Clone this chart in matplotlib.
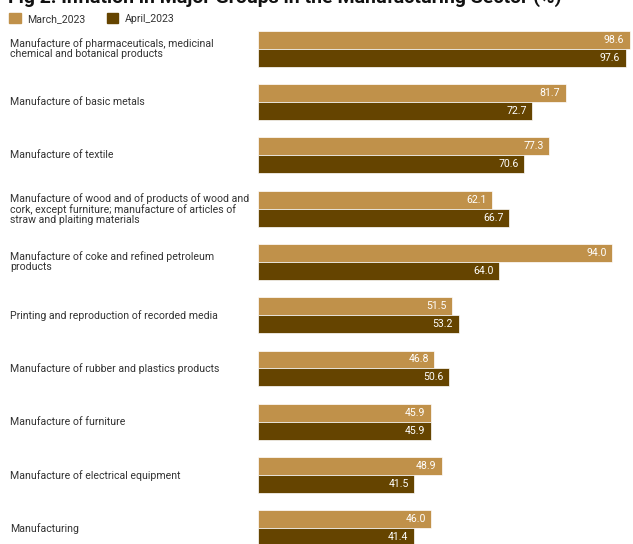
import numpy as np
import matplotlib.pyplot as plt
import matplotlib.transforms as mtransforms
from matplotlib.patches import Patch

plt.rcParams['font.family'] = ['Roboto', 'DejaVu Sans']

groups = [
    'Manufacture of pharmaceuticals, medicinal\nchemical and botanical products',
    'Manufacture of basic metals',
    'Manufacture of textile',
    'Manufacture of wood and of products of wood and\ncork, except furniture; manufacture of articles of\nstraw and plaiting materials',
    'Manufacture of coke and refined petroleum\nproducts',
    'Printing and reproduction of recorded media',
    'Manufacture of rubber and plastics products',
    'Manufacture of furniture',
    'Manufacture of electrical equipment',
    'Manufacturing',
]
march_2023 = [98.6, 81.7, 77.3, 62.1, 94.0, 51.5, 46.8, 45.9, 48.9, 46.0]
april_2023 = [97.6, 72.7, 70.6, 66.7, 64.0, 53.2, 50.6, 45.9, 41.5, 41.4]

c_march = '#C0914A'
c_april = '#654400'

fig = plt.figure(figsize=(6.33, 5.44), dpi=100)
ax = fig.add_axes([258 / 633, 0, 375 / 633, 1])

y = np.arange(len(groups))
h = 0.3375
b1 = ax.barh(y - h / 2, march_2023, height=h, color=c_march, edgecolor='white', linewidth=0.5)
b2 = ax.barh(y + h / 2, april_2023, height=h, color=c_april, edgecolor='white', linewidth=0.5)

for bars, vals in [(b1, march_2023), (b2, april_2023)]:
    for bar, v in zip(bars, vals):
        ax.annotate(f'{v:.1f}', (v, bar.get_y() + bar.get_height() / 2),
                    xytext=(-4, 0), textcoords='offset points',
                    ha='right', va='center', color='white', fontsize=7.6)

ax.set_xlim(0, 99.5)
ax.set_ylim(9.293, -0.914)
ax.axis('off')

trans = mtransforms.blended_transform_factory(fig.transFigure, ax.transData)
for i, g in enumerate(groups):
    ax.text(10 / 633, i, g, transform=trans, ha='left', va='center',
            fontsize=7.6, color='#333333', linespacing=1.0)

fig.text(8 / 633, 0.995, 'Fig 2: Inflation in Major Groups in the Manufacturing Sector (%)',
         fontsize=14, fontweight='bold', ha='left', va='baseline', color='#111111')

handles = [Patch(color=c_march, label='March_2023'), Patch(color=c_april, label='April_2023')]
fig.legend(handles=handles, loc='upper left', bbox_to_anchor=(5 / 633, 1 - 9 / 544),
           ncol=2, frameon=False, fontsize=7.6, handlelength=1.1, handleheight=1.1,
           handletextpad=0.6, columnspacing=2.0, borderaxespad=0, labelcolor='#333333')

fig.savefig('out.png', dpi=100)
